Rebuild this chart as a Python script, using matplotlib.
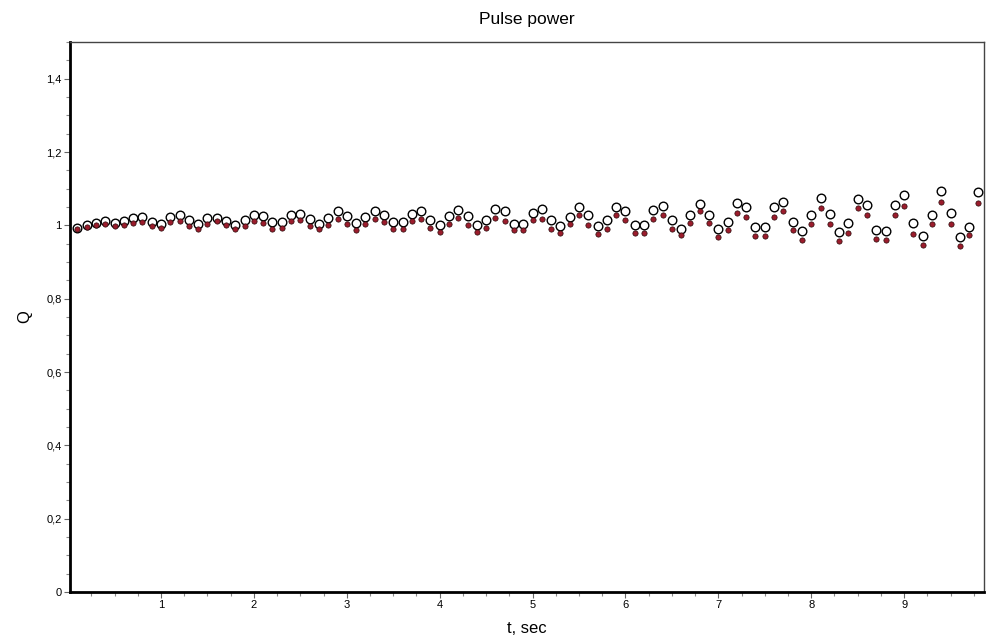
import numpy as np
import matplotlib
matplotlib.use("Agg")
import matplotlib.pyplot as plt
from matplotlib.ticker import MultipleLocator, FuncFormatter

t = [round(0.1 * i, 1) for i in range(1, 99)]

q_white = [
    0.993, 1.000, 1.006, 1.011, 1.006, 1.011, 1.020, 1.023, 1.009, 1.005,
    1.023, 1.027, 1.014, 1.005, 1.020, 1.020, 1.011, 1.002, 1.014, 1.027,
    1.025, 1.009, 1.009, 1.027, 1.032, 1.016, 1.005, 1.020, 1.038, 1.025,
    1.007, 1.023, 1.038, 1.029, 1.009, 1.009, 1.032, 1.038, 1.015, 1.000,
    1.025, 1.043, 1.025, 1.002, 1.015, 1.044, 1.038, 1.005, 1.005, 1.034,
    1.045, 1.014, 0.997, 1.023, 1.050, 1.029, 0.997, 1.014, 1.050, 1.038,
    1.002, 1.002, 1.041, 1.052, 1.014, 0.991, 1.027, 1.059, 1.029, 0.991,
    1.009, 1.061, 1.050, 0.996, 0.996, 1.050, 1.064, 1.009, 0.985, 1.027,
    1.075, 1.030, 0.982, 1.006, 1.073, 1.056, 0.988, 0.985, 1.056, 1.082,
    1.006, 0.970, 1.027, 1.095, 1.035, 0.968, 0.996, 1.091,
]

q_red = [
    0.991, 0.996, 1.000, 1.004, 0.998, 1.002, 1.007, 1.009, 0.997, 0.993,
    1.009, 1.011, 0.998, 0.989, 1.005, 1.011, 1.000, 0.991, 0.998, 1.013,
    1.006, 0.991, 0.994, 1.011, 1.014, 0.998, 0.989, 1.002, 1.018, 1.005,
    0.986, 1.005, 1.018, 1.009, 0.991, 0.991, 1.012, 1.016, 0.994, 0.983,
    1.005, 1.020, 1.000, 0.983, 0.994, 1.020, 1.013, 0.986, 0.986, 1.015,
    1.018, 0.991, 0.979, 1.005, 1.027, 1.002, 0.976, 0.991, 1.027, 1.015,
    0.980, 0.980, 1.018, 1.027, 0.991, 0.973, 1.006, 1.038, 1.006, 0.968,
    0.986, 1.034, 1.023, 0.972, 0.972, 1.023, 1.038, 0.986, 0.961, 1.005,
    1.047, 1.005, 0.957, 0.979, 1.047, 1.029, 0.964, 0.961, 1.029, 1.052,
    0.977, 0.946, 1.005, 1.065, 1.005, 0.943, 0.973, 1.062,
]

x_ticks = [1, 2, 3, 4, 5, 6, 7, 8, 9]
y_ticks = [0, 0.2, 0.4, 0.6, 0.8, 1.0, 1.2, 1.4]

plt.rcParams['font.family'] = ['Liberation Sans', 'DejaVu Sans']

fig = plt.figure(figsize=(9.86, 6.41), dpi=100)
ax = fig.add_axes([70 / 986, 1 - 592 / 641, (984 - 70) / 986, (592 - 42) / 641])

ax.plot(t, q_white, linestyle='none', marker='o', markersize=6.2,
        markerfacecolor='white', markeredgecolor='black', markeredgewidth=1.0, zorder=3)
ax.plot(t, q_red, linestyle='none', marker='o', markersize=3.8,
        markerfacecolor='#9b1c2c', markeredgecolor='#2a0a0a', markeredgewidth=0.5, zorder=4)

ax.set_xlim(0.02, 9.86)
ax.set_ylim(0, 1.5)
ax.set_xticks(x_ticks)
ax.set_yticks(y_ticks)
ax.xaxis.set_minor_locator(MultipleLocator(0.25))
ax.yaxis.set_minor_locator(MultipleLocator(0.05))

def fmt(v, pos):
    s = ('%.1f' % v).rstrip('0').rstrip('.')
    return s.replace('.', ',')

ax.yaxis.set_major_formatter(FuncFormatter(fmt))
ax.xaxis.set_major_formatter(FuncFormatter(lambda v, p: '%d' % round(v)))

ax.tick_params(axis='both', which='major', direction='out', length=4, width=0.8,
               color='#666666', labelsize=8, pad=2)
ax.tick_params(axis='both', which='minor', direction='out', length=3, width=0.8,
               color='#888888')

for s in ['left', 'bottom']:
    ax.spines[s].set_linewidth(2.0)
    ax.spines[s].set_color('black')
for s in ['top', 'right']:
    ax.spines[s].set_linewidth(1.0)
    ax.spines[s].set_color('#444444')

ax.set_title('Pulse power', fontsize=12.5, pad=13)
ax.set_xlabel('t, sec', fontsize=12, labelpad=8)
ax.set_ylabel('Q', fontsize=12, labelpad=10)

fig.savefig('out.png', dpi=100)
